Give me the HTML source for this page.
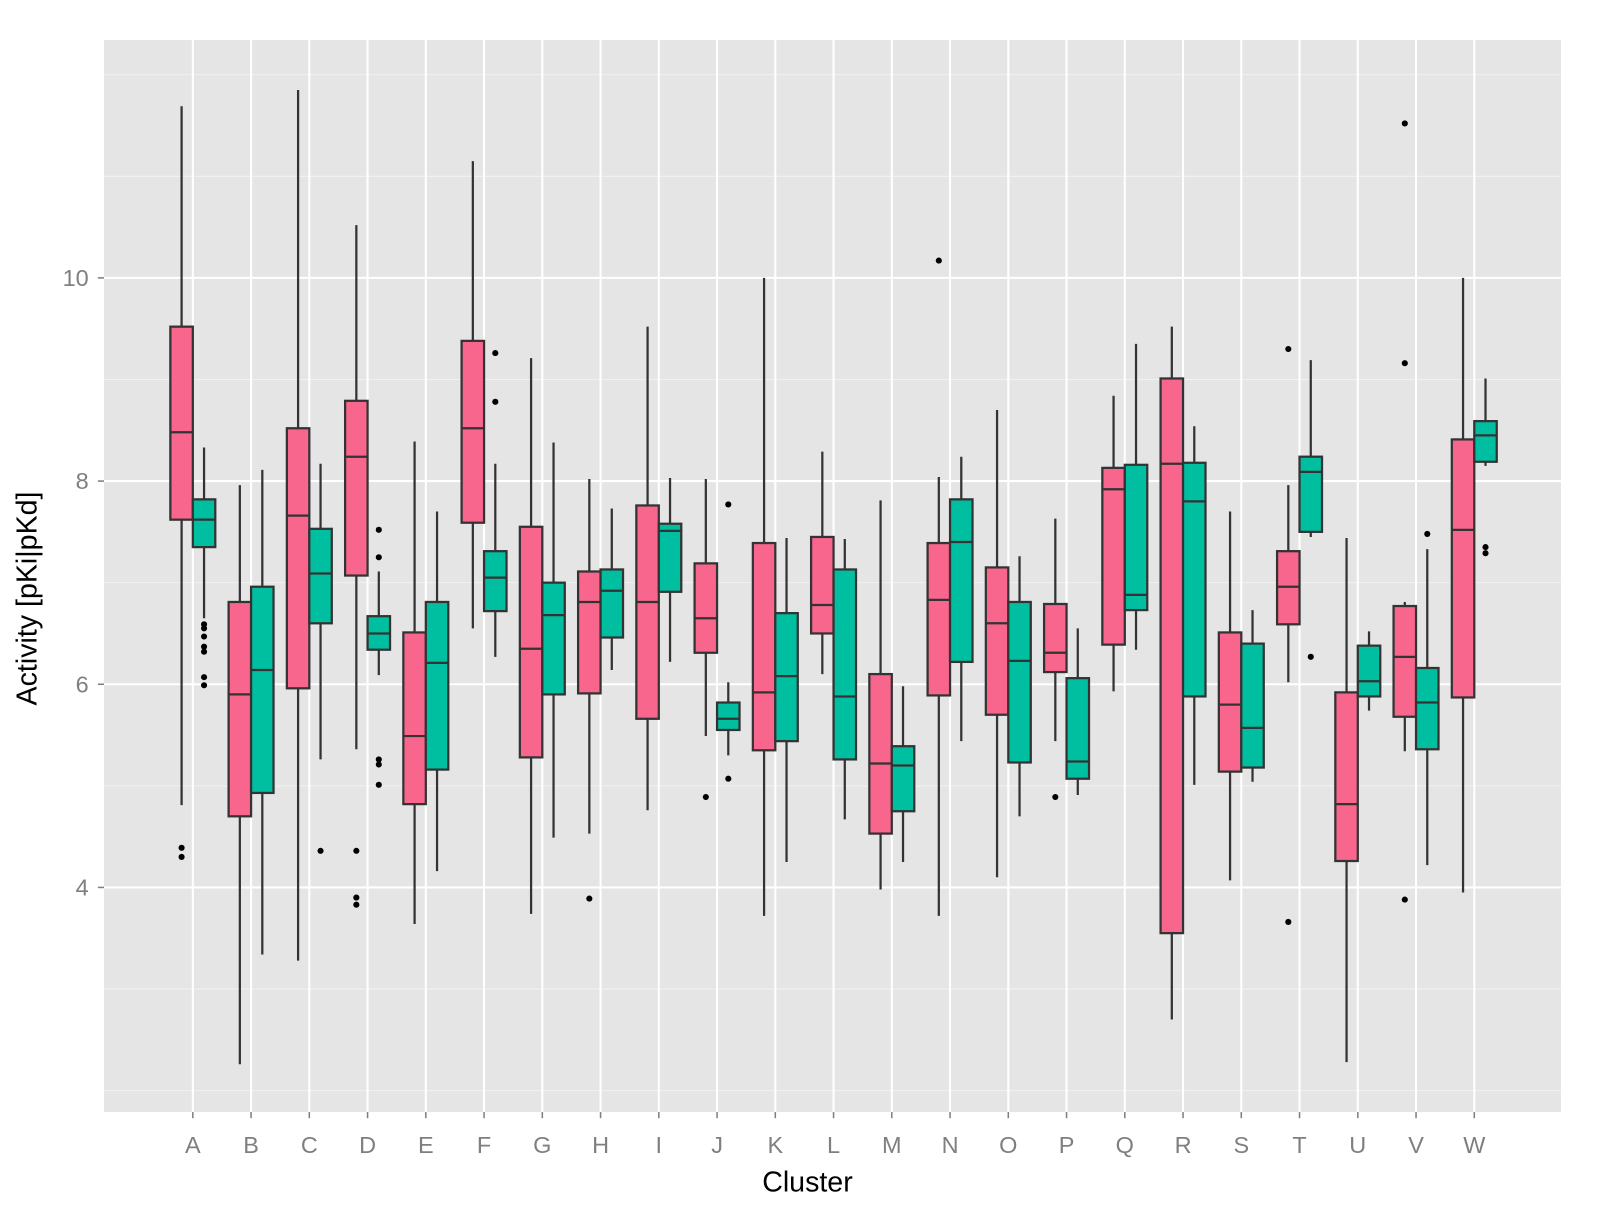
<!DOCTYPE html>
<html><head><meta charset="utf-8"><style>
body{margin:0;background:#fff;}
svg{display:block;font-family:"Liberation Sans",Arial,sans-serif;}
</style></head><body>
<svg id="chart" width="1601" height="1206" viewBox="0 0 1601 1206">
<g transform="translate(104,40) scale(1.021) translate(-101,-38)">
<rect x="101" y="38" width="1427" height="1050" fill="#E5E5E5"/>
<g id="grid"></g><g id="boxes"></g><g id="axes"></g>
<text x="790" y="1166" font-size="28" text-anchor="middle" fill="#000">Cluster</text>
<text x="0" y="0" font-size="28" text-anchor="middle" fill="#000" transform="translate(35,585) rotate(-90)">Activity [pKi|pKd]</text>
</g>
</svg>
<script>
const categories=["A","B","C","D","E","F","G","H","I","J","K","L","M","N","O","P","Q","R","S","T","U","V","W"];
// [low, q1, median, q3, high]
const pinkStats=[[4.81,7.62,8.48,9.52,11.69],[2.26,4.70,5.90,6.81,7.96],[3.28,5.96,7.66,8.52,11.85],[5.36,7.07,8.24,8.79,10.52],[3.64,4.82,5.49,6.51,8.39],[6.55,7.59,8.52,9.38,11.15],[3.74,5.28,6.35,7.55,9.21],[4.53,5.91,6.81,7.11,8.02],[4.76,5.66,6.81,7.76,9.52],[5.49,6.31,6.65,7.19,8.02],[3.72,5.35,5.92,7.39,10.0],[6.10,6.50,6.78,7.45,8.29],[3.98,4.53,5.22,6.10,7.81],[3.72,5.89,6.83,7.39,8.04],[4.10,5.70,6.60,7.15,8.70],[5.44,6.12,6.31,6.79,7.63],[5.93,6.39,7.92,8.13,8.84],[2.70,3.55,8.17,9.01,9.52],[4.07,5.14,5.80,6.51,7.70],[6.02,6.59,6.96,7.31,7.96],[2.28,4.26,4.82,5.92,7.44],[5.34,5.68,6.27,6.77,6.81],[3.95,5.87,7.52,8.41,10.0]];
const greenStats=[[6.65,7.35,7.62,7.82,8.33],[3.34,4.93,6.14,6.96,8.11],[5.26,6.60,7.09,7.53,8.17],[6.09,6.34,6.50,6.67,7.11],[4.16,5.16,6.21,6.81,7.70],[6.27,6.72,7.05,7.31,8.17],[4.49,5.90,6.68,7.00,8.38],[6.14,6.46,6.92,7.13,7.73],[6.22,6.91,7.51,7.58,8.03],[5.30,5.55,5.66,5.82,6.02],[4.25,5.44,6.08,6.70,7.44],[4.67,5.26,5.88,7.13,7.43],[4.25,4.75,5.20,5.39,5.98],[5.44,6.22,7.40,7.82,8.24],[4.70,5.23,6.23,6.81,7.26],[4.91,5.07,5.24,6.06,6.55],[6.34,6.73,6.88,8.16,9.35],[5.01,5.88,7.80,8.18,8.54],[5.04,5.18,5.57,6.40,6.73],[7.45,7.50,8.09,8.24,9.19],[5.74,5.88,6.03,6.38,6.52],[4.22,5.36,5.82,6.16,7.33],[8.15,8.19,8.45,8.59,9.01]];
const pinkOutliers=[[4.39,4.30],[],[],[4.36,3.90,3.83],[],[],[],[3.89],[],[4.89],[],[],[],[10.17],[],[4.89],[],[],[],[9.30,3.66],[],[11.52,9.16,3.88],[]];
const greenOutliers=[[6.59,6.55,6.47,6.37,6.32,6.07,5.99],[],[4.36],[7.52,7.25,5.26,5.21,5.01],[],[9.26,8.78],[],[],[],[7.77,5.07],[],[],[],[],[],[],[],[],[],[6.27],[],[7.48],[7.35,7.29]];
const yTicks=[4,6,8,10];
const yMinor=[2,3,5,7,9,11,12];
const NS="http://www.w3.org/2000/svg";
const y=v=>271+(10-v)*99.5;
const x=i=>188+i*57.05;
function mk(tag,attrs,parent){const e=document.createElementNS(NS,tag);for(const k in attrs)e.setAttribute(k,attrs[k]);parent.appendChild(e);return e;}
const grid=document.getElementById('grid'),boxes=document.getElementById('boxes'),axes=document.getElementById('axes');
yMinor.forEach(v=>{const l=mk('line',{x1:101,x2:1528,y1:y(v),y2:y(v),stroke:'#F2F2F2','stroke-width':1},grid);

});
yTicks.forEach(v=>{const l=mk('line',{x1:101,x2:1528,y1:y(v),y2:y(v),stroke:'#fff','stroke-width':2},grid);


const t=mk('text',{x:86,y:y(v)+8,'font-size':23,'text-anchor':'end',fill:'#7F7F7F'},axes);t.textContent=v;


const tk=mk('line',{x1:95,x2:101,y1:y(v),y2:y(v),stroke:'#7F7F7F','stroke-width':1.5},axes);

});
categories.forEach((c,i)=>{const l=mk('line',{x1:x(i),x2:x(i),y1:38,y2:1088,stroke:'#fff','stroke-width':2},grid);


const t=mk('text',{x:x(i),y:1128,'font-size':23,'text-anchor':'middle',fill:'#7F7F7F'},axes);t.textContent=c;


const tk=mk('line',{x1:x(i),x2:x(i),y1:1088,y2:1094,stroke:'#7F7F7F','stroke-width':1.5},axes);

});
function drawBox(cx,s,outs,fill,name){
 const g=mk('g',{},boxes);
 
 
 const w=mk('line',{x1:cx,x2:cx,y1:y(s[4]),y2:y(s[0]),stroke:'#333','stroke-width':2.2},g);
 
 
 const r=mk('rect',{x:cx-11,y:y(s[3]),width:22,height:y(s[1])-y(s[3]),fill:fill,stroke:'#333','stroke-width':2.2},g);
 
 
 const m=mk('line',{x1:cx-11,x2:cx+11,y1:y(s[2]),y2:y(s[2]),stroke:'#333','stroke-width':2.2},g);
 
 
 outs.forEach(o=>{const p=mk('circle',{cx:cx,cy:y(o),r:3,fill:'#000'},g);
 
 });
}
categories.forEach((c,i)=>{
 drawBox(x(i)-11,pinkStats[i],pinkOutliers[i],'#F8668D','box-'+c.toLowerCase()+'-pink');
 drawBox(x(i)+11,greenStats[i],greenOutliers[i],'#00BFA0','box-'+c.toLowerCase()+'-green');
});
</script>
</body></html>
